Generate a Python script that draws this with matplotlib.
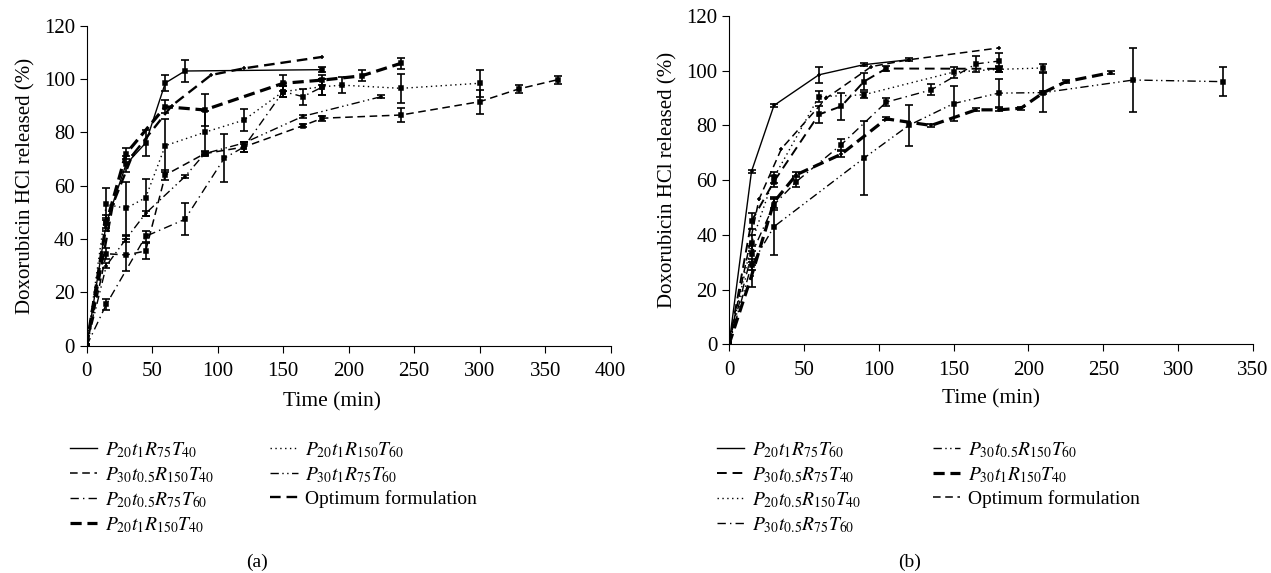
import numpy as np
import matplotlib
matplotlib.use("Agg")
import matplotlib.pyplot as plt
from matplotlib.lines import Line2D

plt.rcParams['font.family'] = ['Liberation Serif', 'DejaVu Serif']
plt.rcParams['mathtext.fontset'] = 'stix'

nan = np.nan

# ---------------- panel (a) data ----------------
a_t1 = [0, 15, 30, 45, 60, 75, 180]
a_v1 = [0, 46, 68, 76, 98.5, 103, 103.5]
a_e1 = [nan, 3, 3, 5, 3, 4, 1]

a_t2 = [0, 15, 30, 45, 60, 90, 120, 165, 180, 240, 300, 330, 360]
a_v2 = [0, 34.5, 34, 35.5, 64, 72, 74.5, 82.5, 85.3, 86.5, 91.5, 96.3, 99.8]
a_e2 = [nan, 2, 6, 3, 2, 1, 2, 0.5, 1, 2.5, 4.5, 1.5, 1.5]

a_t3 = [0, 15, 45, 75, 105, 120, 150, 165, 180]
a_v3 = [0, 15.5, 41, 47.4, 70.3, 74.5, 95.3, 93.4, 97]
a_e3 = [nan, 2, 2, 6, 9, 2, 2, 3, 3]

a_t4 = [0, 15, 30, 60, 90, 150, 180, 210, 240]
a_v4 = [0, 46, 72, 89.6, 88.4, 98.4, 99.6, 101.2, 105.9]
a_e4 = [nan, 2, 2, 2.5, 6, 3, 2, 2, 2]

a_t5 = [0, 15, 30, 45, 60, 90, 120, 150, 180, 195, 240, 300]
a_v5 = [0, 53, 51.5, 55.5, 75, 80, 84.6, 95.3, 97.1, 97.7, 96.5, 98.4]
a_e5 = [nan, 6, 10, 7, 10, 8, 4, 2, 3, 3, 5.5, 5]

a_t6 = [0, 15, 30, 45, 75, 90, 120, 165, 225]
a_v6 = [0, 30, 40, 49.6, 63.4, 72, 76, 86, 93.4]
a_e6 = [nan, 1, 1, 1, 0.5, 0.5, 0.5, 0.5, 0.5]

# optimum formulation (same on both panels)
opt_t = [0, 20, 35, 65, 95, 120, 180]
opt_v = [0, 53, 71.5, 90, 101.5, 104, 108.3]

a_labels = [r'$P_{20}t_{1}R_{75}T_{40}$', r'$P_{30}t_{0.5}R_{150}T_{40}$',
            r'$P_{20}t_{0.5}R_{75}T_{60}$', r'$P_{20}t_{1}R_{150}T_{40}$',
            r'$P_{20}t_{1}R_{150}T_{60}$', r'$P_{30}t_{1}R_{75}T_{60}$',
            'Optimum formulation']

# ---------------- panel (b) data ----------------
b_t1 = [0, 15, 30, 60, 90, 120]
b_v1 = [0, 63.2, 87.3, 98.5, 102.2, 104]
b_e1 = [nan, 0.5, 0.5, 3, 0.5, 0.5]

b_t2 = [0, 15, 30, 60, 75, 90, 105, 180]
b_v2 = [0, 45, 59.5, 84, 87, 96, 100.8, 100.7]
b_e2 = [nan, 3, 2, 3, 5, 3, 1, 1]

b_t3 = [0, 15, 30, 60, 90, 150, 180, 210]
b_v3 = [0, 37, 61, 90.5, 91.2, 99.5, 100.5, 101]
b_e3 = [nan, 3, 2, 2, 1, 2, 1, 1.5]

b_t4 = [0, 15, 30, 45, 75, 105, 135, 165, 180]
b_v4 = [0, 33, 51, 59.5, 73, 88.5, 93, 102.5, 103.5]
b_e4 = [nan, 3, 2, 2, 2, 1.5, 2, 3, 3]

b_t5 = [0, 15, 30, 90, 120, 150, 180, 210, 270, 330]
b_v5 = [0, 29, 43, 68, 80, 88, 91.8, 92, 96.6, 96]
b_e5 = [nan, 2, 10.5, 13.5, 7.5, 6.5, 5, 7, 11.8, 5.3]

b_t6 = [0, 15, 30, 45, 75, 105, 135, 165, 180, 195, 210, 225, 255]
b_v6 = [0, 25, 52, 62, 69.5, 82.4, 80, 85.7, 85.7, 86.3, 92, 96, 99.3]
b_e6 = [nan, 4, 2, 1, 1, 0.5, 0.5, 0.5, 0.5, 0.5, 0.5, 0.5, 0.5]

b_labels = [r'$P_{20}t_{1}R_{75}T_{60}$', r'$P_{30}t_{0.5}R_{75}T_{40}$',
            r'$P_{20}t_{0.5}R_{150}T_{40}$', r'$P_{30}t_{0.5}R_{75}T_{60}$',
            r'$P_{30}t_{0.5}R_{150}T_{60}$', r'$P_{30}t_{1}R_{150}T_{40}$',
            'Optimum formulation']

# line styles
solid = dict(ls='-', lw=1.0)
thin_dash = dict(ls=(0, (5, 3)), lw=1.1)
mid_dash = dict(ls=(0, (5, 3)), lw=1.4)
dashdot = dict(ls=(0, (6, 3, 1, 3)), lw=1.0)
thick_dash = dict(ls=(0, (3.5, 1.8)), lw=2.3)
dotted = dict(ls=(0, (1, 2.5)), lw=1.0)
dashdotdot = dict(ls=(0, (6, 2.5, 1, 2.5, 1, 2.5)), lw=1.0)
opt_dash = dict(ls=(0, (4.5, 2.5)), lw=1.7)


def draw(ax, t, v, e, style, marker='s'):
    ax.plot(t, v, color='black', **style)
    ax.plot(t, v, ls='none', marker=marker, ms=3.2, color='black', mew=1.1)
    if e is not None:
        ax.errorbar(t, v, yerr=e, fmt='none', ecolor='black', elinewidth=1.2,
                    capsize=3, capthick=1.2)


def style_axes(ax, xmax, xstep, xlab_pos):
    ax.set_xlim(0, xmax)
    ax.set_ylim(0, 120)
    ax.set_xticks(np.arange(0, xmax + 1, xstep))
    ax.set_yticks(np.arange(0, 121, 20))
    ax.spines['top'].set_visible(False)
    ax.spines['right'].set_visible(False)
    ax.tick_params(direction='out', length=5, labelsize=15)
    ax.tick_params(axis='x', pad=7)
    ax.set_xlabel('Time (min)', fontsize=15.5, labelpad=11)
    ax.xaxis.set_label_coords(xlab_pos, -0.145)
    ax.set_ylabel('Doxorubicin HCl released (%)', fontsize=15, labelpad=6)


fig = plt.figure(figsize=(12.71, 5.73), dpi=100)
ax1 = fig.add_axes([0.0682, 0.3967, 0.4123, 0.5585])
ax2 = fig.add_axes([0.5736, 0.3991, 0.4123, 0.573])

a_styles = [solid, thin_dash, dashdot, thick_dash, dotted, dashdotdot, opt_dash]
draw(ax1, a_t1, a_v1, a_e1, solid)
draw(ax1, a_t2, a_v2, a_e2, thin_dash)
draw(ax1, a_t3, a_v3, a_e3, dashdot)
draw(ax1, a_t4, a_v4, a_e4, thick_dash)
draw(ax1, a_t5, a_v5, a_e5, dotted)
draw(ax1, a_t6, a_v6, a_e6, dashdotdot, marker='+')
draw(ax1, opt_t, opt_v, None, opt_dash, marker='+')
style_axes(ax1, 400, 50, 0.468)

b_styles = [solid, mid_dash, dotted, dashdot, dashdotdot, thick_dash, thin_dash]
draw(ax2, b_t1, b_v1, b_e1, solid, marker='+')
draw(ax2, b_t2, b_v2, b_e2, mid_dash)
draw(ax2, b_t3, b_v3, b_e3, dotted)
draw(ax2, b_t4, b_v4, b_e4, dashdot)
draw(ax2, b_t5, b_v5, b_e5, dashdotdot)
draw(ax2, b_t6, b_v6, b_e6, thick_dash, marker='+')
draw(ax2, opt_t, opt_v, None, thin_dash, marker='+')
style_axes(ax2, 350, 50, 0.5)
# panel (b) axes is slightly taller, keep the label at the same pixel row
ax2.xaxis.set_label_coords(0.5, -0.136)

# legends below each panel (column-first order)
for labels, styles, x0, cs, txt, xt in [(a_labels, a_styles, 0.0415, 2.87, '(a)', 0.202),
                                         (b_labels, b_styles, 0.55, 3.7, '(b)', 0.716)]:
    handles = [Line2D([], [], color='black', **s) for s in styles]
    fig.legend(handles, labels, loc='upper left', bbox_to_anchor=(x0, 0.263),
               ncol=2, frameon=False, fontsize=14, handlelength=1.4,
               handletextpad=0.4, columnspacing=cs, labelspacing=0.28)
    fig.text(xt, 0.01, txt, fontsize=14, ha='center')

fig.savefig('out.png', dpi=100)
